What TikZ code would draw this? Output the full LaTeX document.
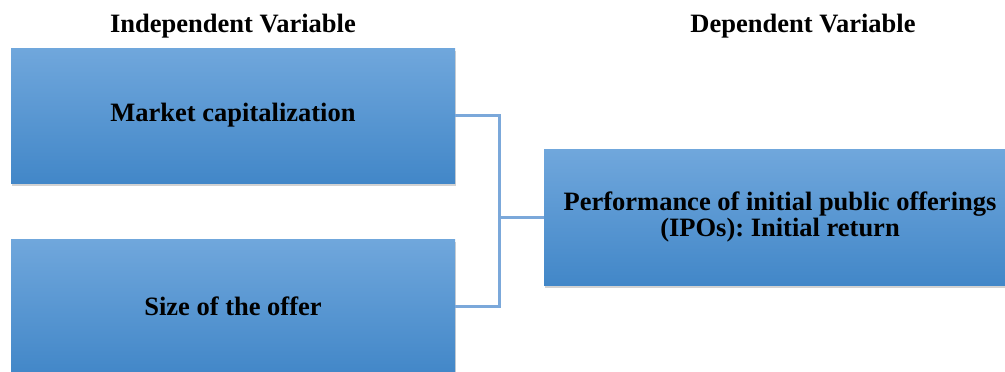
\documentclass[tikz,border=0pt]{standalone}
\usepackage{fontspec}
\setmainfont{Liberation Serif}
\usepackage{tikz}
\usetikzlibrary{shadows}
\frenchspacing

\definecolor{boxtop}{HTML}{70A7DC}
\definecolor{boxbottom}{HTML}{4287C8}
\definecolor{linkblue}{HTML}{7BA8DA}

\begin{document}
\begin{tikzpicture}[x=1pt,y=-1pt]
	\tikzstyle{Var} = [rectangle, minimum width=444pt, minimum height=135pt, text centered, align=center, top color=boxtop, bottom color=boxbottom, drop shadow={shadow xshift=1pt, shadow yshift=-3pt, opacity=0.35}, font=\bfseries\fontsize{26.5}{25.5}\selectfont, inner sep=0pt]
	\tikzstyle{Title} = [font=\bfseries\fontsize{26.5}{25.5}\selectfont]
	\tikzstyle{link} = [line width=3pt, linkblue]

	\useasboundingbox (0,0) rectangle (1005,372);
	\fill[white] (0,0) rectangle (1005,372);

	\node (indep) [Title] at (233,26) {Independent Variable};
	\node (dep) [Title] at (803,26) {Dependent Variable};

	\node (mcap) [Var] at (233,115.5) {Market capitalization};
	\node (size) [Var] at (233,306.5) {Size of the offer};
	\node (perf) [Var, minimum width=472pt, minimum height=136pt] at (780,217) {Performance of initial public offerings\\(IPOs): Initial return};

	\coordinate (junction) at (499,217);
	\draw [link] (mcap.east) -| (junction) |- (size.east);
	\draw [link] (junction) -- (perf.west);
\end{tikzpicture}
\end{document}
